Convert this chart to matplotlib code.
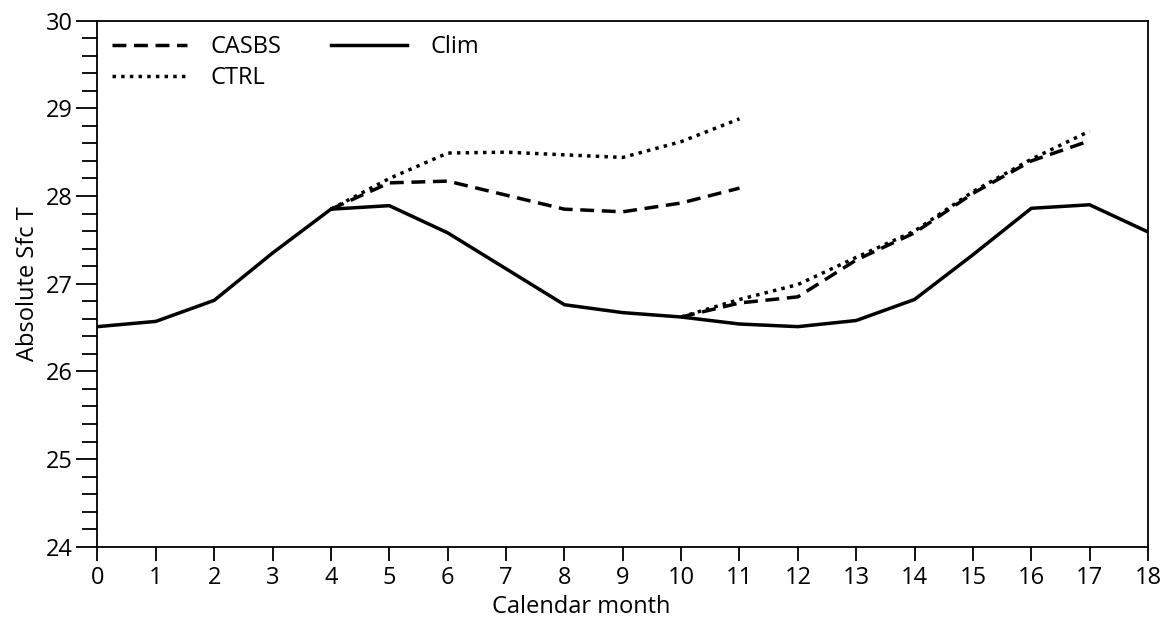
import numpy as np
import matplotlib
matplotlib.use("Agg")
import matplotlib.pyplot as plt
from matplotlib.ticker import MultipleLocator

plt.rcParams['font.family'] = ['Open Sans', 'DejaVu Sans']

# 数据
months_clim = list(range(0, 19))
clim = [26.51, 26.57, 26.81, 27.35, 27.85, 27.89, 27.58, 27.17, 26.76, 26.67,
        26.62, 26.54, 26.51, 26.58, 26.82, 27.33, 27.86, 27.90, 27.59]

months_seg1 = list(range(4, 12))
casbs_seg1 = [27.85, 28.15, 28.17, 28.01, 27.85, 27.82, 27.92, 28.09]
ctrl_seg1 = [27.85, 28.20, 28.49, 28.50, 28.47, 28.44, 28.62, 28.88]

months_seg2 = list(range(10, 18))
casbs_seg2 = [26.62, 26.78, 26.85, 27.27, 27.58, 28.03, 28.40, 28.63]
ctrl_seg2 = [26.62, 26.82, 26.99, 27.30, 27.60, 28.05, 28.42, 28.74]

xticks = list(range(0, 19))
yticks = [24, 25, 26, 27, 28, 29, 30]

lw = 2.5
dash = (0, (4.0, 2.2))
dot = (0, (1.0, 1.5))

fig = plt.figure(figsize=(11.76, 6.3), dpi=100)
ax = fig.add_axes([0.0829, 0.1322, 0.8933, 0.8350])

ax.plot(months_seg1, casbs_seg1, color="black", lw=lw, linestyle=dash, label="CASBS")
ax.plot(months_seg2, casbs_seg2, color="black", lw=lw, linestyle=dash)
ax.plot(months_seg1, ctrl_seg1, color="black", lw=lw, linestyle=dot, label="CTRL")
ax.plot(months_seg2, ctrl_seg2, color="black", lw=lw, linestyle=dot)
ax.plot(months_clim, clim, color="black", lw=lw, linestyle="-", label="Clim")

ax.set_xlim(0, 18)
ax.set_ylim(24, 30)
ax.set_xticks(xticks)
ax.set_yticks(yticks)
ax.yaxis.set_minor_locator(MultipleLocator(0.2))

for s in ax.spines.values():
    s.set_linewidth(1.3)
ax.tick_params(axis="x", which="major", direction="out", length=10, width=1.3,
               labelsize=17, pad=4)
ax.tick_params(axis="y", which="major", direction="out", length=15, width=1.3,
               labelsize=17, pad=3)
ax.tick_params(axis="y", which="minor", direction="out", length=11, width=1.3)

ax.set_xlabel("Calendar month", fontsize=17)
ax.xaxis.set_label_coords(0.46, -0.092)
ax.set_ylabel("Absolute Sfc T", fontsize=17, labelpad=4)

handles, labels = ax.get_legend_handles_labels()
ax.legend(handles, labels, ncol=2, loc="upper left", frameon=False, fontsize=17,
          handlelength=3.2, handletextpad=1.0, columnspacing=2.1,
          labelspacing=0.3, borderaxespad=0.2, bbox_to_anchor=(0.0, 1.0))

fig.savefig("out.png", dpi=100)
